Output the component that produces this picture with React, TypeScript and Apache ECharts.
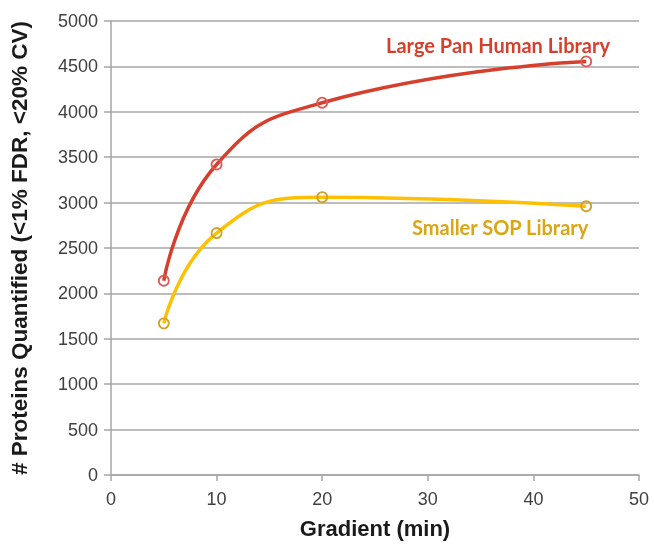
import React, { useEffect, useRef } from "react";
import * as echarts from "echarts";

const gradients = [5, 10, 20, 45];
const largePanHuman = [2140, 3420, 4100, 4555];
const smallerSOP = [1670, 2665, 3060, 2960];
const seriesNames = ["Large Pan Human Library", "Smaller SOP Library"];

export default function App() {
  const ref = useRef<HTMLDivElement>(null);
  useEffect(() => {
    if (!ref.current) return;
    const chart = echarts.init(ref.current, null, { renderer: "svg" });
    const axisColor = "#a6a6a6";
    const font = "Arial, 'Liberation Sans', sans-serif";
    chart.setOption({
      animation: false,
      textStyle: { fontFamily: font },
      grid: { left: 111, right: 15, top: 21, bottom: 67 },
      xAxis: {
        type: "value",
        min: 0,
        max: 50,
        interval: 10,
        name: "Gradient (min)",
        nameLocation: "middle",
        nameGap: 42,
        nameTextStyle: { fontFamily: font, fontWeight: "bold", fontSize: 22, color: "#1a1a1a" },
        axisLine: { show: true, lineStyle: { color: axisColor, width: 1.5 } },
        axisTick: { show: true, inside: false, length: 6, lineStyle: { color: axisColor, width: 1.5 } },
        axisLabel: { fontFamily: font, fontSize: 18, color: "#404040", margin: 15, formatter: (v: number) => String(v) },
        splitLine: { show: false },
      },
      yAxis: {
        type: "value",
        min: 0,
        max: 5000,
        interval: 500,
        name: "# Proteins Quantified (<1% FDR, <20% CV)",
        nameLocation: "middle",
        nameGap: 80,
        nameTextStyle: { fontFamily: font, fontWeight: "bold", fontSize: 22.5, color: "#1a1a1a" },
        axisLine: { show: true, lineStyle: { color: axisColor, width: 1.5 } },
        axisTick: { show: true, inside: false, length: 7, lineStyle: { color: axisColor, width: 1.5 } },
        axisLabel: { fontFamily: font, fontSize: 18, color: "#404040", margin: 13, formatter: (v: number) => String(v) },
        splitLine: { show: true, lineStyle: { color: axisColor, width: 1.5 } },
      },
      series: [
        {
          name: seriesNames[0],
          type: "line",
          smooth: 0.5,
          data: gradients.map((g, i) => [g, largePanHuman[i]]),
          symbol: "circle",
          symbolSize: 10,
          lineStyle: { color: "#d63f2c", width: 3.5 },
          itemStyle: { color: "rgba(255,255,255,0)", borderColor: "#e05a5a", borderWidth: 1.8 },
          z: 3,
        },
        {
          name: seriesNames[1],
          type: "line",
          smooth: 0.5,
          data: gradients.map((g, i) => [g, smallerSOP[i]]),
          symbol: "circle",
          symbolSize: 10,
          lineStyle: { color: "#ffc000", width: 3.5 },
          itemStyle: { color: "rgba(255,255,255,0)", borderColor: "#cfa329", borderWidth: 1.8 },
          z: 2,
        },
      ],
      graphic: [
        {
          type: "text",
          left: 386,
          top: 35,
          style: {
            text: seriesNames[0],
            fontFamily: "Lato",
            fontWeight: "bold",
            fontSize: 20,
            fill: "#d63f2c",
          },
        },
        {
          type: "text",
          left: 412,
          top: 217,
          style: {
            text: seriesNames[1],
            fontFamily: "Lato",
            fontWeight: "bold",
            fontSize: 20,
            fill: "#dba514",
          },
        },
      ],
    });
    return () => chart.dispose();
  }, []);
  return (
    <div
      ref={ref}
      style={{ position: "fixed", left: 0, top: 0, width: 654, height: 544, overflow: "hidden" }}
    />
  );
}
